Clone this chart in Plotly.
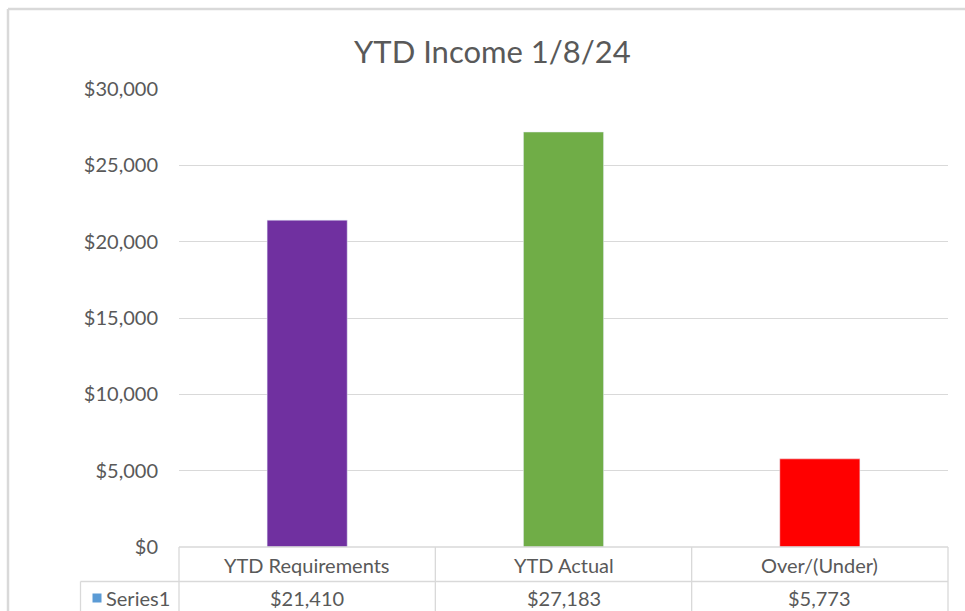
import plotly.graph_objects as go

categories = ["YTD Requirements", "YTD Actual", "Over/(Under)"]
values = [21410, 27183, 5773]
colors = ["#7030A0", "#70AD47", "#FF0000"]
series_name = "Series1"
tick_vals = [0, 5000, 10000, 15000, 20000, 25000, 30000]
tick_text = ["$0", "$5,000", "$10,000", "$15,000", "$20,000", "$25,000", "$30,000"]
title = "YTD Income 1/8/24"

W, H = 965, 611
L, R, T, B = 179, 17, 89, 64
PW = W - L - R
PH = H - T - B
FONT = "Lato"
TXT = "#595959"
GRID = "#D9D9D9"


def px(x):
    return (x - L) / PW


def py(y):
    return (H - B - y) / PH


fig = go.Figure()
fig.add_trace(go.Bar(x=categories, y=values, marker_color=colors, width=0.3125,
                     name=series_name, showlegend=False))

shapes = []


def line(x0, y0, x1, y1, w=1.3):
    shapes.append(dict(type="line", xref="paper", yref="paper",
                       x0=px(x0), y0=py(y0), x1=px(x1), y1=py(y1),
                       line=dict(color=GRID, width=w), layer="above"))


# outer chart frame
line(8, 9, 965, 9, 2.5)
line(8, 9, 8, 611, 2.5)
# data table
ytop, ymid, ybot = 547, 581.5, 640
xs = [L + i * PW / len(categories) for i in range(len(categories) + 1)]
line(xs[0], ytop, xs[-1], ytop)
line(80.5, ymid, xs[-1], ymid)
line(80.5, ymid, 80.5, ybot)
for x in xs:
    line(x, ytop, x, ybot)
# legend key square
shapes.append(dict(type="rect", xref="paper", yref="paper",
                   x0=px(92.5), x1=px(101.5), y0=py(593.5), y1=py(602.5),
                   fillcolor="#5B9BD5", line=dict(width=0)))

FS = 20
annotations = []
for c, v in zip(categories, values):
    annotations.append(dict(x=c, xref="x", y=py(564.5), yref="paper", text=c,
                            showarrow=False, font=dict(family=FONT, size=FS, color=TXT),
                            xanchor="center", yanchor="middle"))
    annotations.append(dict(x=c, xref="x", y=py(598), yref="paper", text="${:,.0f}".format(v),
                            showarrow=False, font=dict(family=FONT, size=FS, color=TXT),
                            xanchor="center", yanchor="middle"))
annotations.append(dict(x=px(104), xref="paper", y=py(598), yref="paper",
                        text=series_name,
                        showarrow=False, font=dict(family=FONT, size=FS, color=TXT),
                        xanchor="left", yanchor="middle"))
annotations.append(dict(x=px(492), xref="paper", y=py(51), yref="paper", text=title,
                        showarrow=False, font=dict(family=FONT, size=31, color=TXT),
                        xanchor="center", yanchor="middle"))

fig.update_layout(
    width=W, height=H,
    margin=dict(l=L, r=R, t=T, b=B),
    paper_bgcolor="white", plot_bgcolor="white",
    bargap=0.6875,
    shapes=shapes, annotations=annotations,
    xaxis=dict(showticklabels=False, showgrid=False, zeroline=False, showline=False,
               range=[-0.5, 2.5]),
    yaxis=dict(range=[0, 30000], tickvals=tick_vals, ticktext=tick_text,
               showgrid=True, gridcolor=GRID, gridwidth=1.3, zeroline=False,
               showline=False, ticks="", ticklabelstandoff=20,
               tickfont=dict(family=FONT, size=FS, color=TXT)),
)

fig.write_html("out.html")
